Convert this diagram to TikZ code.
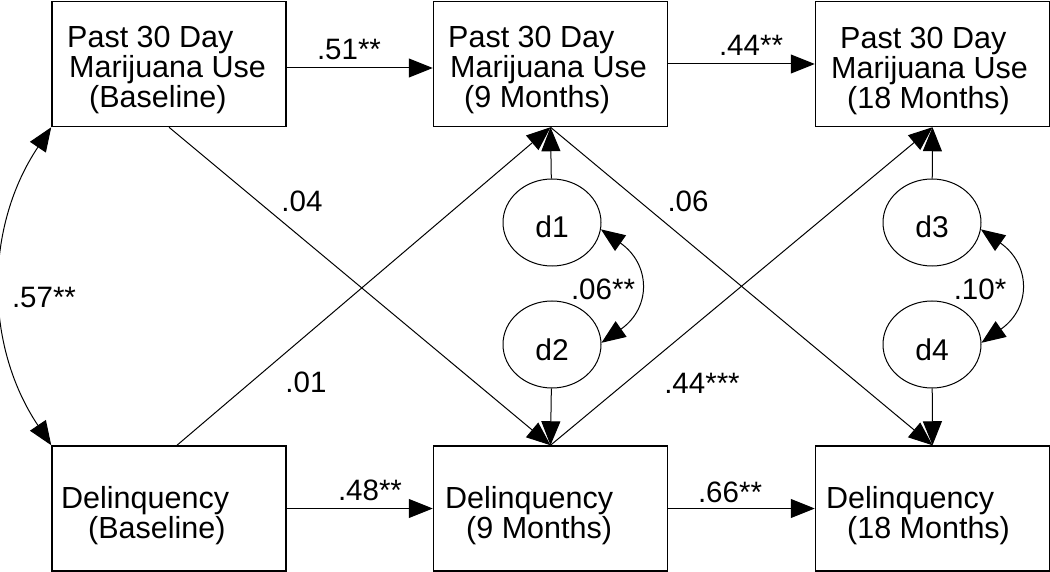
\documentclass[tikz,border=0pt]{standalone}
\usepackage{fontspec}
\setmainfont{Liberation Sans}
\usetikzlibrary{arrows.meta,shapes.geometric,calc}
\begin{document}
\begin{tikzpicture}[x=1pt,y=-1pt,
  box/.style={draw, line width=1.5pt, minimum width=234pt, minimum height=125pt, inner sep=0pt},
  txt/.style={font=\fontsize{30.5}{30}\selectfont, align=left, inner sep=0pt, anchor=west},
  lbl/.style={font=\fontsize{29.5}{30}\selectfont, inner sep=0pt},
  dist/.style={draw, ellipse, line width=1pt, minimum width=98pt, minimum height=87pt, inner sep=0pt, font=\fontsize{30}{30}\selectfont, text height=31pt, text depth=0pt},
  tip/.tip={Triangle[length=24pt,width=19pt]},
  arr/.style={line width=1pt, -tip},
  cov/.style={line width=1pt, tip-tip},
]
\useasboundingbox (0,0) rectangle (1050,572);

% boxes
\node[box] (B1) at (169,64) {};
\node[box] (B2) at (550.5,64) {};
\node[box] (B3) at (932.5,64) {};
\node[box] (B4) at (169,508.5) {};
\node[box] (B5) at (550.5,508.5) {};
\node[box] (B6) at (932.5,508.5) {};

% box texts
\node[txt] (T1) at (67,70.3) {Past 30 Day\\\hspace*{2pt}Marijuana Use\\\hspace*{22pt}(Baseline)};
\node[txt] (T2) at (448,70.3) {Past 30 Day\\\hspace*{2pt}Marijuana Use\\\hspace*{16pt}(9 Months)};
\node[txt] (T3) at (831,71.3) {\hspace*{9pt}Past 30 Day\\Marijuana Use\\\hspace*{16pt}(18 Months)};
\node[txt] (T4) at (61,515.3) {Delinquency\\\hspace*{27pt}(Baseline)};
\node[txt] (T5) at (445,515.3) {Delinquency\\\hspace*{21pt}(9 Months)};
\node[txt] (T6) at (826,515.3) {Delinquency\\\hspace*{21pt}(18 Months)};

% disturbances
\node[dist] (d1) at (552,222.5) {d1};
\node[dist] (d2) at (552,344.5) {d2};
\node[dist] (d3) at (932,222.5) {d3};
\node[dist] (d4) at (932,344.5) {d4};

% horizontal paths
\draw[arr] ($(B1.east)+(0,4)$) -- ($(B2.west)+(0,4)$);
\draw[arr] (B2.east) -- (B3.west);
\draw[arr] (B4.east) -- (B5.west);
\draw[arr] (B5.east) -- (B6.west);

% cross-lagged paths
\draw[arr] (B1.south) -- (B5.north);
\draw[arr] ($(B4.north)+(8,0)$) -- (B2.south);
\draw[arr] (B2.south) -- (B6.north);
\draw[arr] (B5.north) -- (B3.south);

% disturbance paths
\draw[arr] (d1) -- (B2.south);
\draw[arr] (d2) -- (B5.north);
\draw[arr] (d3) -- (B3.south);
\draw[arr] (d4) -- (B6.north);

% covariances
\draw[cov] (B1.south west) .. controls +(-67,100) and +(-67,-100) .. (B4.north west);
\draw[cov] (d1.-8) .. controls +(50,35) and +(50,-35) .. (d2.2);
\draw[cov] (d3.-8) .. controls +(50,35) and +(50,-35) .. (d4.2);

% labels
\node[lbl] (L1) at (349,49) {.51**};
\node[lbl] (L2) at (751,45) {.44**};
\node[lbl] (L3) at (370,490) {.48**};
\node[lbl] (L4) at (730,492) {.66**};
\node[lbl] (L5) at (302,201) {.04};
\node[lbl] (L6) at (688,201) {.06};
\node[lbl] (L7) at (306,382) {.01};
\node[lbl] (L8) at (702,383) {.44***};
\node[lbl] (L9) at (44,297) {.57**};
\node[lbl] (L10) at (603,289) {.06**};
\node[lbl] (L11) at (980,289) {.10*};
\end{tikzpicture}
\end{document}
